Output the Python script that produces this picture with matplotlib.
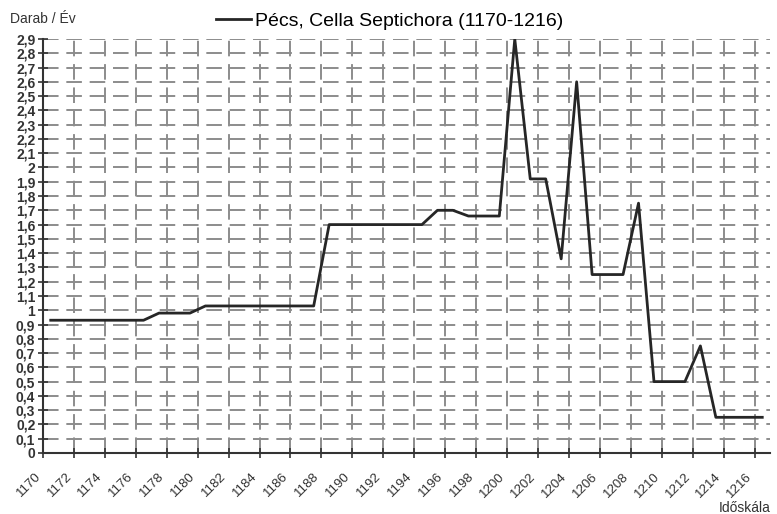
#!/usr/bin/env python3
import numpy as np
import matplotlib.pyplot as plt

# adatok (Darab / Év)
years = list(range(1170, 1217))
values = ([0.93] * 7 + [0.98] * 3 + [1.03] * 8 + [1.6] * 7 + [1.7] * 2 +
          [1.66] * 3 + [2.9] + [1.92] * 2 + [1.36] + [2.6] + [1.25] * 3 +
          [1.75] + [0.5] * 3 + [0.75] + [0.25] * 4)
xtick_years = list(range(1170, 1217, 2))
ytick_vals = [round(0.1 * i, 1) for i in range(30)]
ytick_labels = [("%g" % v).replace('.', ',') for v in ytick_vals]

title = 'Pécs, Cella Septichora (1170-1216)'
ylabel = 'Darab / Év'
xlabel = 'Időskála'

plt.rcParams['font.family'] = ['Liberation Sans', 'DejaVu Sans']

fig = plt.figure(figsize=(7.77, 5.14), dpi=100)
ax = fig.add_axes([43 / 777, 1 - 453 / 514, 727 / 777, 414 / 514])

line, = ax.plot(years, values, color='#262626', linewidth=2.0, label=title)

ax.set_xlim(years[0] - 0.5, years[-1] + 0.5)
ax.set_ylim(0, 2.9)

# kategória-tengely: a címkék a kategóriák határán vannak
ax.set_xticks([y - 0.5 for y in xtick_years])
ax.set_xticklabels([str(y) for y in xtick_years], rotation=45,
                   ha='right', va='top', fontsize=9.5, color='#333333')
ax.set_yticks(ytick_vals)
ax.set_yticklabels(ytick_labels, fontsize=10, fontweight='bold', color='#333333')

ax.tick_params(axis='both', direction='inout', length=7, width=1.2,
               color='#333333', pad=2)
ax.tick_params(axis='x', pad=9)

ax.grid(True, color='#8c8c8c', linewidth=1.4, linestyle=(0, (8, 4)))
ax.set_axisbelow(True)

for side in ['top', 'right']:
    ax.spines[side].set_visible(False)
for side in ['left', 'bottom']:
    ax.spines[side].set_color('#333333')
    ax.spines[side].set_linewidth(1.5)

fig.legend(handles=[line], loc='center', bbox_to_anchor=(390 / 777, 1 - 21 / 514),
           frameon=False, fontsize=14, handlelength=1.8, handletextpad=0.2,
           borderaxespad=0)
fig.text(10 / 777, 1 - 19 / 514, ylabel, fontsize=10, color='#333333',
         ha='left', va='center')
fig.text(771 / 777, 1 - 508 / 514, xlabel, fontsize=10, color='#333333',
         ha='right', va='center')

plt.savefig('out.png', dpi=100)
